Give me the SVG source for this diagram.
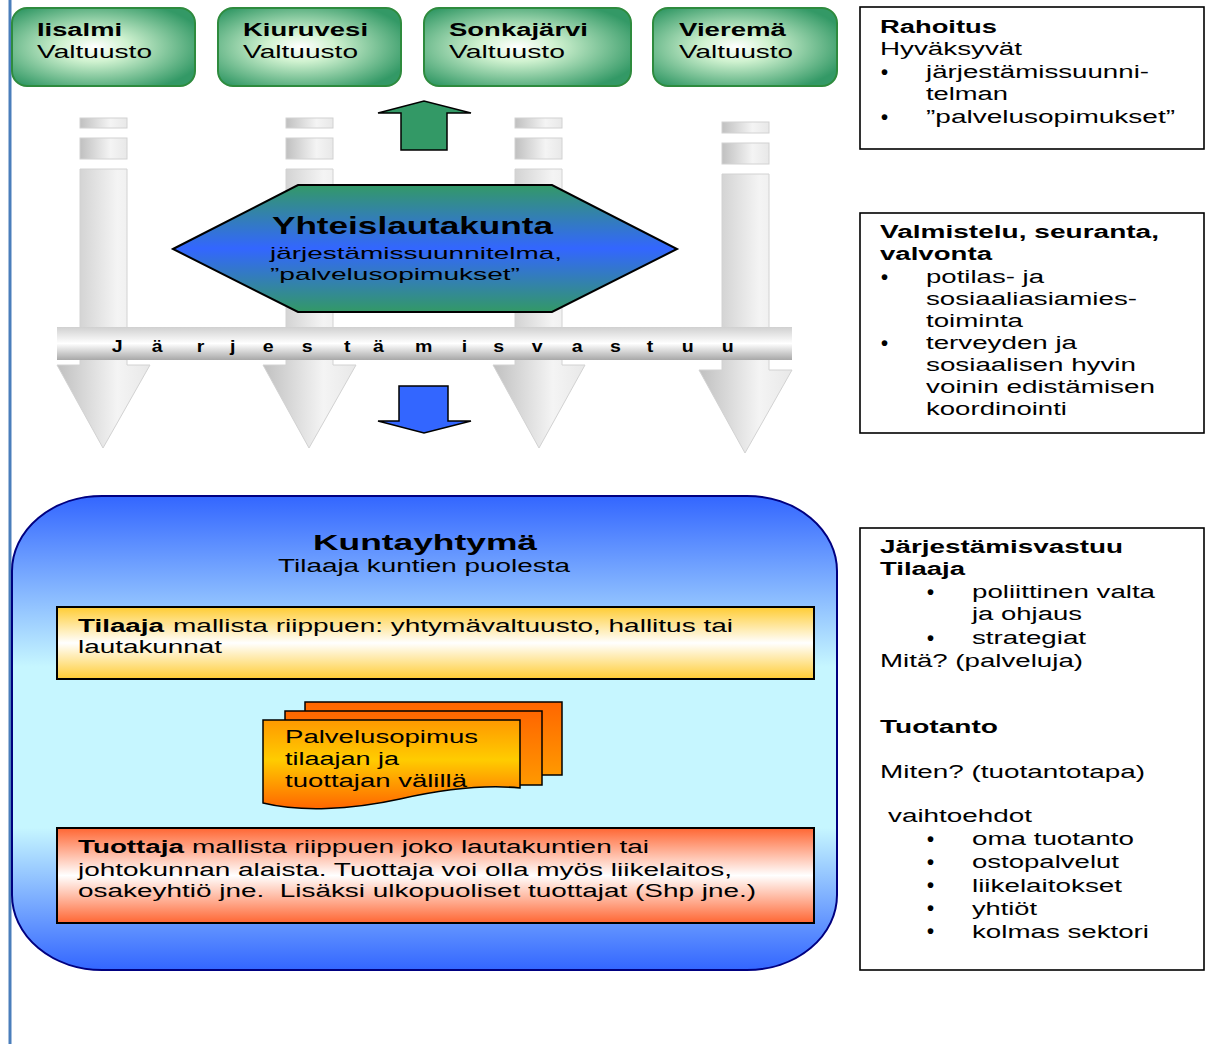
<svg xmlns="http://www.w3.org/2000/svg" width="1218" height="1044" viewBox="0 0 1218 1044">
<style>
text{font-family:"Liberation Sans",Arial,Helvetica,sans-serif;font-size:18px;fill:#000}
.b{font-weight:bold}
.bu{font-size:20px;font-weight:bold}
.gbox{fill:url(#gGreen);stroke:#2e8b3e;stroke-width:2}
.rbox{fill:#fff;stroke:#000;stroke-width:1.6}
.garrow{fill:url(#gGrayH);stroke:#d2d2d2;stroke-width:1}
.pre{white-space:pre}
</style>
<defs>
<radialGradient id="gGreen" cx="0.45" cy="0.5" r="0.62">
<stop offset="0" stop-color="#ffffff"/>
<stop offset="0.3" stop-color="#d0f2d0"/>
<stop offset="1" stop-color="#339966"/>
</radialGradient>
<linearGradient id="gGrayH" x1="0" y1="0" x2="1" y2="0">
<stop offset="0" stop-color="#c0c0c0"/>
<stop offset="0.65" stop-color="#f4f4f4"/>
<stop offset="1" stop-color="#e8e8e8"/>
</linearGradient>
<linearGradient id="gBand" x1="0" y1="0" x2="0" y2="1">
<stop offset="0" stop-color="#d0d0d0"/>
<stop offset="0.5" stop-color="#ffffff"/>
<stop offset="1" stop-color="#a8a8a8"/>
</linearGradient>
<linearGradient id="gHex" x1="0" y1="0" x2="0" y2="1">
<stop offset="0" stop-color="#339966"/>
<stop offset="0.5" stop-color="#3366ff"/>
<stop offset="1" stop-color="#339966"/>
</linearGradient>
<linearGradient id="gBig" x1="0" y1="0" x2="0" y2="1">
<stop offset="0" stop-color="#3366ff"/>
<stop offset="0.36" stop-color="#c6f6ff"/>
<stop offset="0.7" stop-color="#c6f6ff"/>
<stop offset="1" stop-color="#3366ff"/>
</linearGradient>
<linearGradient id="gYellow" x1="0" y1="0" x2="0" y2="1">
<stop offset="0" stop-color="#ffcc33"/>
<stop offset="0.5" stop-color="#ffffff"/>
<stop offset="1" stop-color="#ffcc33"/>
</linearGradient>
<linearGradient id="gRed" x1="0" y1="0" x2="0" y2="1">
<stop offset="0" stop-color="#ff6633"/>
<stop offset="0.5" stop-color="#ffffff"/>
<stop offset="1" stop-color="#ff6633"/>
</linearGradient>
<linearGradient id="gDocBack" x1="0" y1="0" x2="0" y2="1">
<stop offset="0" stop-color="#ff6600"/>
<stop offset="1" stop-color="#ff9900"/>
</linearGradient>
<linearGradient id="gDocFront" x1="0" y1="0" x2="0" y2="1">
<stop offset="0" stop-color="#ff9900"/>
<stop offset="0.45" stop-color="#ffcc00"/>
<stop offset="1" stop-color="#ff6600"/>
</linearGradient>
</defs>
<rect width="1218" height="1044" fill="#fff"/>
<rect x="8.5" y="0" width="3" height="1044" fill="#4a7ebb"/>

<g id="connectors">
<g id="gray-arrow-1">
<rect class="garrow" x="80" y="118" width="47" height="10"/>
<rect class="garrow" x="80" y="138" width="47" height="21"/>
<polygon class="garrow" points="80,169 127,169 127,365 150,365 103,448 57,365 80,365"/>
</g>
<g id="gray-arrow-2">
<rect class="garrow" x="286" y="118" width="47" height="10"/>
<rect class="garrow" x="286" y="138" width="47" height="21"/>
<polygon class="garrow" points="286,169 333,169 333,365 356,365 309,448 263,365 286,365"/>
</g>
<g id="gray-arrow-3">
<rect class="garrow" x="515" y="118" width="47" height="10"/>
<rect class="garrow" x="515" y="138" width="47" height="21"/>
<polygon class="garrow" points="515,169 562,169 562,365 585,365 539,448 493,365 515,365"/>
</g>
<g id="gray-arrow-4">
<rect class="garrow" x="722" y="122" width="47" height="11"/>
<rect class="garrow" x="722" y="143" width="47" height="21"/>
<polygon class="garrow" points="722,174 769,174 769,370 792,370 745,453 699,370 722,370"/>
</g>
<polygon id="arrow-up" points="401,150 447,150 447,113 471,113 424,101 378,113 401,113" fill="#339966" stroke="#000" stroke-width="1.5"/>
<polygon id="arrow-down" points="399,386 448,386 448,421 471,421 424,433 378,421 399,421" fill="#3366ff" stroke="#000" stroke-width="1.5"/>
</g>

<g id="iisalmi">
<rect class="gbox" x="12" y="8" width="183" height="78" rx="15"/>
<text class="b" x="37" y="36" textLength="85" lengthAdjust="spacingAndGlyphs">Iisalmi</text>
<text x="37" y="58" textLength="115" lengthAdjust="spacingAndGlyphs">Valtuusto</text>
</g>
<g id="kiuruvesi">
<rect class="gbox" x="218" y="8" width="183" height="78" rx="15"/>
<text class="b" x="243" y="36" textLength="125" lengthAdjust="spacingAndGlyphs">Kiuruvesi</text>
<text x="243" y="58" textLength="115" lengthAdjust="spacingAndGlyphs">Valtuusto</text>
</g>
<g id="sonkajarvi">
<rect class="gbox" x="424" y="8" width="207" height="78" rx="15"/>
<text class="b" x="449" y="36" textLength="139" lengthAdjust="spacingAndGlyphs">Sonkajärvi</text>
<text x="449" y="58" textLength="116" lengthAdjust="spacingAndGlyphs">Valtuusto</text>
</g>
<g id="vierema">
<rect class="gbox" x="653" y="8" width="184" height="78" rx="15"/>
<text class="b" x="679" y="36" textLength="107" lengthAdjust="spacingAndGlyphs">Vieremä</text>
<text x="679" y="58" textLength="114" lengthAdjust="spacingAndGlyphs">Valtuusto</text>
</g>

<g id="yhteislautakunta">
<polygon points="173,249 298,185 552,185 677,249 552,312 298,312" fill="url(#gHex)" stroke="#000" stroke-width="2"/>
<text class="b" x="272" y="234" style="font-size:24px" textLength="281" lengthAdjust="spacingAndGlyphs">Yhteislautakunta</text>
<text x="270" y="259" style="font-size:17px" textLength="292" lengthAdjust="spacingAndGlyphs">järjestämissuunnitelma,</text>
<text x="270" y="280" style="font-size:17px" textLength="250" lengthAdjust="spacingAndGlyphs">”palvelusopimukset”</text>
</g>

<g id="jarjestamisvastuu-band">
<rect x="57" y="327" width="735" height="33" fill="url(#gBand)"/>
<text class="b" transform="scale(1.15,1)" y="352" style="font-size:17px" x="97.1 131.9 171.0 200.0 228.4 262.3 299.1 324.3 360.9 401.5 429.0 462.3 497.1 530.4 562.3 592.8 627.6">Järjestämisvastuu</text>
</g>

<g id="kuntayhtyma">
<rect x="12" y="496" width="825" height="474" rx="90" ry="75" fill="url(#gBig)" stroke="#000080" stroke-width="2"/>
<text class="b" x="313" y="550" style="font-size:22px" textLength="224" lengthAdjust="spacingAndGlyphs">Kuntayhtymä</text>
<text x="278" y="572" textLength="292" lengthAdjust="spacingAndGlyphs">Tilaaja kuntien puolesta</text>
</g>

<g id="tilaaja">
<rect x="57" y="607" width="757" height="72" fill="url(#gYellow)" stroke="#000" stroke-width="2"/>
<text class="b" x="78" y="632" textLength="86" lengthAdjust="spacingAndGlyphs">Tilaaja</text>
<text x="173" y="632" textLength="560" lengthAdjust="spacingAndGlyphs">mallista riippuen: yhtymävaltuusto, hallitus tai</text>
<text x="78" y="653" textLength="144" lengthAdjust="spacingAndGlyphs">lautakunnat</text>
</g>

<g id="palvelusopimus">
<rect x="305" y="702" width="257" height="73" fill="url(#gDocBack)" stroke="#000" stroke-width="1.5"/>
<rect x="285" y="711" width="257" height="74" fill="url(#gDocBack)" stroke="#000" stroke-width="1.5"/>
<path d="M263,720 H520 V788 C480,784 440,790 400,799 C350,810 300,812 263,803 Z" fill="url(#gDocFront)" stroke="#000" stroke-width="1.5"/>
<text x="285" y="743" textLength="193" lengthAdjust="spacingAndGlyphs">Palvelusopimus</text>
<text x="285" y="765" textLength="114" lengthAdjust="spacingAndGlyphs">tilaajan ja</text>
<text x="285" y="787" textLength="182" lengthAdjust="spacingAndGlyphs">tuottajan välillä</text>
</g>

<g id="tuottaja">
<rect x="57" y="828" width="757" height="95" fill="url(#gRed)" stroke="#000" stroke-width="2"/>
<text class="b" x="78" y="853" textLength="106" lengthAdjust="spacingAndGlyphs">Tuottaja</text>
<text x="192" y="853" textLength="457" lengthAdjust="spacingAndGlyphs">mallista riippuen joko lautakuntien tai</text>
<text x="78" y="876" textLength="654" lengthAdjust="spacingAndGlyphs">johtokunnan alaista. Tuottaja voi olla myös liikelaitos,</text>
<text class="pre" x="78" y="897" textLength="678" lengthAdjust="spacingAndGlyphs">osakeyhtiö jne.  Lisäksi ulkopuoliset tuottajat (Shp jne.)</text>
</g>

<g id="rahoitus">
<rect class="rbox" x="860" y="7" width="344" height="142"/>
<text class="b" x="880" y="33" textLength="117" lengthAdjust="spacingAndGlyphs">Rahoitus</text>
<text x="880" y="55" textLength="142" lengthAdjust="spacingAndGlyphs">Hyväksyvät</text>
<text class="bu" x="881" y="79">•</text>
<text x="926" y="78" textLength="223" lengthAdjust="spacingAndGlyphs">järjestämissuunni-</text>
<text x="926" y="100" textLength="82" lengthAdjust="spacingAndGlyphs">telman</text>
<text class="bu" x="881" y="124">•</text>
<text x="926" y="123" textLength="249" lengthAdjust="spacingAndGlyphs">”palvelusopimukset”</text>
</g>

<g id="valmistelu">
<rect class="rbox" x="860" y="213" width="344" height="220"/>
<text class="b" x="880" y="238" textLength="279" lengthAdjust="spacingAndGlyphs">Valmistelu, seuranta,</text>
<text class="b" x="880" y="260" textLength="112" lengthAdjust="spacingAndGlyphs">valvonta</text>
<text class="bu" x="881" y="284">•</text>
<text x="926" y="283" textLength="118" lengthAdjust="spacingAndGlyphs">potilas- ja</text>
<text x="926" y="305" textLength="211" lengthAdjust="spacingAndGlyphs">sosiaaliasiamies-</text>
<text x="926" y="327" textLength="97" lengthAdjust="spacingAndGlyphs">toiminta</text>
<text class="bu" x="881" y="350">•</text>
<text x="926" y="349" textLength="151" lengthAdjust="spacingAndGlyphs">terveyden ja</text>
<text x="926" y="371" textLength="210" lengthAdjust="spacingAndGlyphs">sosiaalisen hyvin</text>
<text x="926" y="393" textLength="229" lengthAdjust="spacingAndGlyphs">voinin edistämisen</text>
<text x="926" y="415" textLength="141" lengthAdjust="spacingAndGlyphs">koordinointi</text>
</g>

<g id="jarjestamisvastuu-tilaaja">
<rect class="rbox" x="860" y="528" width="344" height="442"/>
<text class="b" x="880" y="553" textLength="243" lengthAdjust="spacingAndGlyphs">Järjestämisvastuu</text>
<text class="b" x="880" y="575" textLength="85" lengthAdjust="spacingAndGlyphs">Tilaaja</text>
<text class="bu" x="927" y="599">•</text>
<text x="972" y="598" textLength="183" lengthAdjust="spacingAndGlyphs">poliittinen valta</text>
<text x="972" y="620" textLength="110" lengthAdjust="spacingAndGlyphs">ja ohjaus</text>
<text class="bu" x="927" y="645">•</text>
<text x="972" y="644" textLength="114" lengthAdjust="spacingAndGlyphs">strategiat</text>
<text x="880" y="667" textLength="203" lengthAdjust="spacingAndGlyphs">Mitä? (palveluja)</text>
<text class="b" x="880" y="733" textLength="118" lengthAdjust="spacingAndGlyphs">Tuotanto</text>
<text x="880" y="778" textLength="265" lengthAdjust="spacingAndGlyphs">Miten? (tuotantotapa)</text>
<text x="888" y="822" textLength="144" lengthAdjust="spacingAndGlyphs">vaihtoehdot</text>
<text class="bu" x="927" y="846">•</text>
<text x="972" y="845" textLength="162" lengthAdjust="spacingAndGlyphs">oma tuotanto</text>
<text class="bu" x="927" y="869">•</text>
<text x="972" y="868" textLength="147" lengthAdjust="spacingAndGlyphs">ostopalvelut</text>
<text class="bu" x="927" y="892">•</text>
<text x="972" y="892" textLength="150" lengthAdjust="spacingAndGlyphs">liikelaitokset</text>
<text class="bu" x="927" y="915">•</text>
<text x="972" y="915" textLength="65" lengthAdjust="spacingAndGlyphs">yhtiöt</text>
<text class="bu" x="927" y="938">•</text>
<text x="972" y="938" textLength="177" lengthAdjust="spacingAndGlyphs">kolmas sektori</text>
</g>
</svg>
